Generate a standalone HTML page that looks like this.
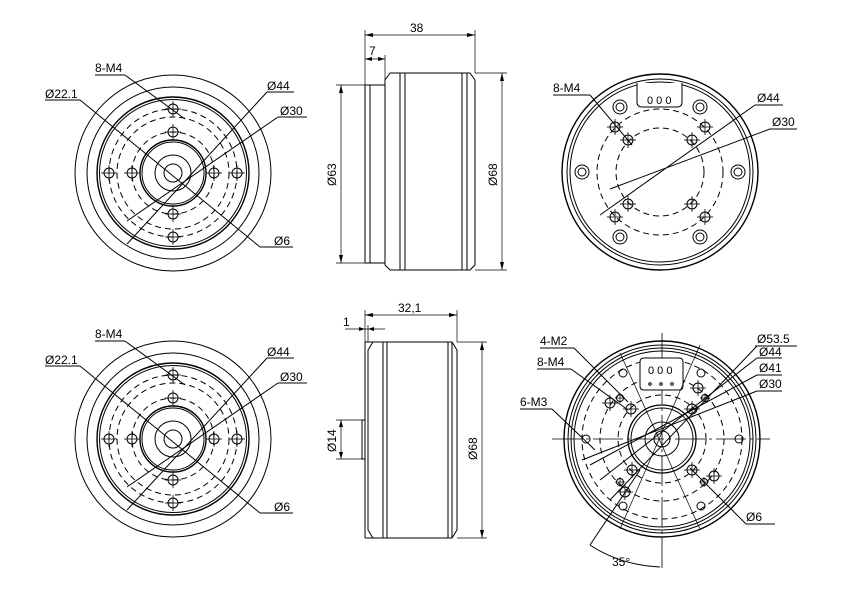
<!DOCTYPE html>
<html><head><meta charset="utf-8"><style>
html,body{margin:0;padding:0;background:#fff;}
svg{display:block;}
text{font-family:"Liberation Sans",sans-serif;font-size:12px;fill:#000;}
</style></head><body>
<svg width="850" height="606" viewBox="0 0 850 606" xmlns="http://www.w3.org/2000/svg">
<defs>
<g id="h"><circle r="5" fill="none" stroke="#000" stroke-width="1"/><line x1="-8" y1="0" x2="8" y2="0" stroke="#000" stroke-width="0.8"/><line x1="0" y1="-8" x2="0" y2="8" stroke="#000" stroke-width="0.8"/></g>
<g id="hs"><circle r="3.5" fill="none" stroke="#000" stroke-width="1"/><line x1="-5" y1="0" x2="5" y2="0" stroke="#000" stroke-width="0.7"/><line x1="0" y1="-5" x2="0" y2="5" stroke="#000" stroke-width="0.7"/></g>
<g id="lv" fill="none" stroke="#000" stroke-width="1">
<circle r="98"/><circle r="86"/><circle r="76" stroke-width="1.4"/><circle r="73.5"/>
<circle r="64" stroke-dasharray="6,4"/><circle r="56" stroke-dasharray="6,4"/><circle r="41" stroke-dasharray="6,4"/>
<circle r="33" stroke-width="1.4"/><circle r="31"/><circle r="18"/><circle r="9"/>
<use href="#h" x="0" y="-64"/><use href="#h" x="0" y="-41"/><use href="#h" x="0" y="41"/><use href="#h" x="0" y="64"/>
<use href="#h" x="-64" y="0"/><use href="#h" x="-41" y="0"/><use href="#h" x="41" y="0"/><use href="#h" x="64" y="0"/>
<line x1="-93" y1="-73" x2="87" y2="74"/>
<line x1="-46" y1="71" x2="94" y2="-81"/>
<line x1="-46" y1="48" x2="105" y2="-56"/>
<line x1="-48" y1="-98" x2="12" y2="-54"/>
</g>
</defs>

<!-- Top-left view -->
<use href="#lv" x="173" y="173"/>
<g stroke="#000" stroke-width="1" fill="none">
<line x1="95" y1="75" x2="125" y2="75"/>
<line x1="45" y1="100" x2="80" y2="100"/>
<line x1="267" y1="92" x2="294" y2="92"/>
<line x1="278" y1="117" x2="307" y2="117"/>
<line x1="260" y1="247" x2="293" y2="247"/>
</g>
<text x="95" y="72">8-M4</text><text x="45" y="98">Ø22.1</text><text x="267" y="90">Ø44</text><text x="280" y="115">Ø30</text><text x="274" y="245">Ø6</text>

<!-- Bottom-left view -->
<use href="#lv" x="173" y="439"/>
<g stroke="#000" stroke-width="1" fill="none">
<line x1="95" y1="341" x2="125" y2="341"/>
<line x1="45" y1="366" x2="80" y2="366"/>
<line x1="267" y1="358" x2="294" y2="358"/>
<line x1="278" y1="383" x2="307" y2="383"/>
<line x1="260" y1="513" x2="293" y2="513"/>
</g>
<text x="95" y="338">8-M4</text><text x="45" y="364">Ø22.1</text><text x="267" y="356">Ø44</text><text x="280" y="381">Ø30</text><text x="274" y="511">Ø6</text>

<!-- Top-middle side view -->
<g stroke="#000" stroke-width="1" fill="none">
<path d="M365,85 L365,263 M365,85 L385,85 M365,263 L385,263 M370,85 L370,263"/>
<path d="M385,85 L385,263"/>
<path d="M385,80 L390,73 L470,73 L475,80 L475,265 L470,270 L390,270 L385,265 Z"/>
<line x1="400" y1="73" x2="400" y2="270"/><line x1="405" y1="73" x2="405" y2="270"/>
<line x1="462" y1="73" x2="462" y2="270"/><line x1="467" y1="73" x2="467" y2="270"/>
<!-- dims -->
<line x1="365" y1="30" x2="365" y2="85" stroke-width="0.7"/><line x1="475" y1="30" x2="475" y2="73" stroke-width="0.7"/>
<line x1="365" y1="35" x2="475" y2="35" stroke-width="0.7"/>
<line x1="385" y1="55" x2="385" y2="85" stroke-width="0.7"/>
<line x1="365" y1="59" x2="385" y2="59" stroke-width="0.7"/>
<line x1="336" y1="85" x2="365" y2="85" stroke-width="0.7"/><line x1="336" y1="263" x2="365" y2="263" stroke-width="0.7"/>
<line x1="341" y1="85" x2="341" y2="263" stroke-width="0.7"/>
<line x1="475" y1="73" x2="507" y2="73" stroke-width="0.7"/><line x1="475" y1="270" x2="507" y2="270" stroke-width="0.7"/>
<line x1="502" y1="73" x2="502" y2="270" stroke-width="0.7"/>
</g>
<g fill="#000">
<path d="M365,35 l8,-2 v4z M475,35 l-8,-2 v4z M365,59 l7,-2 v4z M385,59 l-7,-2 v4z M341,85 l-2,8 h4z M341,263 l-2,-8 h4z M502,73 l-2,8 h4z M502,270 l-2,-8 h4z"/>
</g>
<text x="410" y="32">38</text><text x="369" y="55">7</text>
<text transform="translate(336,186) rotate(-90)">Ø63</text>
<text transform="translate(497,186) rotate(-90)">Ø68</text>

<!-- Bottom-middle side view -->
<g stroke="#000" stroke-width="1" fill="none">
<line x1="365" y1="342" x2="365" y2="538"/>
<path d="M368,350 L373,342 L452,342 L457,350 L457,530 L452,538 L373,538 L368,530 Z"/>
<line x1="365" y1="342" x2="373" y2="342"/><line x1="365" y1="538" x2="373" y2="538"/>
<line x1="383" y1="342" x2="383" y2="538"/><line x1="387" y1="342" x2="387" y2="538"/>
<line x1="448" y1="342" x2="448" y2="538"/><line x1="452" y1="342" x2="452" y2="538"/>
<rect x="362" y="420" width="3" height="39"/>
<line x1="365" y1="310" x2="365" y2="342" stroke-width="0.7"/><line x1="457" y1="310" x2="457" y2="342" stroke-width="0.7"/>
<line x1="365" y1="315" x2="457" y2="315" stroke-width="0.7"/>
<line x1="368" y1="325" x2="368" y2="342" stroke-width="0.7"/>
<line x1="345" y1="329" x2="385" y2="329" stroke-width="0.7"/>
<line x1="336" y1="420" x2="362" y2="420" stroke-width="0.7"/><line x1="336" y1="459" x2="362" y2="459" stroke-width="0.7"/>
<line x1="341" y1="420" x2="341" y2="459" stroke-width="0.7"/>
<line x1="457" y1="342" x2="487" y2="342" stroke-width="0.7"/><line x1="457" y1="538" x2="487" y2="538" stroke-width="0.7"/>
<line x1="482" y1="342" x2="482" y2="538" stroke-width="0.7"/>
</g>
<g fill="#000">
<path d="M365,315 l8,-2 v4z M457,315 l-8,-2 v4z M365,329 l-6,-2 v4z M368,329 l6,-2 v4z M341,420 l-2,7 h4z M341,459 l-2,-7 h4z M482,342 l-2,8 h4z M482,538 l-2,-8 h4z"/>
</g>
<text x="398" y="312">32,1</text><text x="343" y="326">1</text>
<text transform="translate(336,452) rotate(-90)">Ø14</text>
<text transform="translate(477,460) rotate(-90)">Ø68</text>

<!-- Top-right view -->
<g stroke="#000" stroke-width="1" fill="none">
<circle cx="660" cy="172" r="98" stroke-width="1.4"/><circle cx="660" cy="172" r="93"/><circle cx="660" cy="172" r="90"/>
<circle cx="660" cy="172" r="63" stroke-dasharray="6,4"/><circle cx="660" cy="172" r="44" stroke-dasharray="6,4"/>
<path d="M637,83 L637,102 Q637,107 642,107 L677,107 Q682,107 682,102 L682,83" fill="#fff"/>
<g>
<circle cx="620" cy="107" r="7"/><circle cx="620" cy="107" r="4"/>
<circle cx="700" cy="107" r="7"/><circle cx="700" cy="107" r="4"/>
<circle cx="582" cy="172" r="7"/><circle cx="582" cy="172" r="4"/>
<circle cx="738" cy="172" r="7"/><circle cx="738" cy="172" r="4"/>
<circle cx="620" cy="237" r="7"/><circle cx="620" cy="237" r="4"/>
<circle cx="700" cy="237" r="7"/><circle cx="700" cy="237" r="4"/>
</g>
<line x1="755" y1="105" x2="783" y2="105"/><line x1="755" y1="105" x2="600" y2="215"/>
<line x1="770" y1="129" x2="797" y2="129"/><line x1="770" y1="129" x2="610" y2="189"/>
<line x1="553" y1="95" x2="590" y2="95"/><line x1="590" y1="95" x2="632" y2="145"/>
</g>
<use href="#h" x="615" y="127"/><use href="#h" x="705" y="127"/><use href="#h" x="615" y="217"/><use href="#h" x="705" y="217"/>
<use href="#h" x="628" y="140"/><use href="#h" x="692" y="140"/><use href="#h" x="628" y="204"/><use href="#h" x="692" y="204"/>
<text x="647" y="104" style="font-size:11px">0 0 0</text>
<text x="553" y="92">8-M4</text><text x="757" y="102">Ø44</text><text x="772" y="126">Ø30</text>

<!-- Bottom-right view -->
<g stroke="#000" stroke-width="1" fill="none">
<line x1="662" y1="333" x2="662" y2="568" stroke-dasharray="30,4,3,4" stroke-width="0.8"/>
<line x1="552" y1="439" x2="770" y2="439" stroke-dasharray="30,4,3,4" stroke-width="0.8"/>
<circle cx="662" cy="439" r="98" stroke-width="1.4"/><circle cx="662" cy="439" r="94"/><circle cx="662" cy="439" r="91"/><circle cx="662" cy="439" r="88"/>
<circle cx="662" cy="439" r="80" stroke-dasharray="6,4"/><circle cx="662" cy="439" r="62" stroke-dasharray="6,4"/><circle cx="662" cy="439" r="44" stroke-dasharray="6,4"/>
<circle cx="662" cy="439" r="34" stroke-width="1.3"/><circle cx="662" cy="439" r="31"/><circle cx="662" cy="439" r="17"/><circle cx="662" cy="439" r="8"/>
<path d="M640,362 Q640,358 644,358 L679,358 Q683,358 683,362 L683,386 Q683,390 679,390 L644,390 Q640,390 640,386 Z" fill="#fff"/>
<circle cx="650" cy="384" r="1.3"/><circle cx="661" cy="384" r="1.3"/><circle cx="672" cy="384" r="1.3"/>
<circle cx="623" cy="373" r="4"/><circle cx="701" cy="373" r="4"/><circle cx="586" cy="439" r="4"/><circle cx="739" cy="439" r="4"/><circle cx="623" cy="506" r="4"/><circle cx="701" cy="506" r="4"/>
<!-- leaders -->
<line x1="757" y1="346" x2="610" y2="500"/>
<line x1="757" y1="358" x2="600" y2="480"/>
<line x1="757" y1="375" x2="590" y2="465"/>
<line x1="757" y1="391" x2="582" y2="460"/>
<line x1="755" y1="346" x2="797" y2="346"/><line x1="757" y1="358" x2="782" y2="358"/><line x1="757" y1="375" x2="782" y2="375"/><line x1="757" y1="391" x2="782" y2="391"/>
<line x1="540" y1="348" x2="574" y2="348"/><line x1="574" y1="348" x2="628" y2="402"/>
<line x1="537" y1="369" x2="571" y2="369"/><line x1="571" y1="369" x2="628" y2="410"/>
<line x1="520" y1="409" x2="552" y2="409"/><line x1="552" y1="409" x2="595" y2="450"/>
<line x1="746" y1="524" x2="775" y2="524"/><line x1="746" y1="524" x2="690" y2="468"/>
<line x1="640" y1="470" x2="590" y2="545"/>
<path d="M590,545 Q620,565 660,567"/>
<line x1="620" y1="353" x2="700" y2="529" stroke-width="0.7"/>
<line x1="700" y1="345" x2="620" y2="529" stroke-width="0.7"/>
</g>
<use href="#h" x="610" y="403"/><use href="#h" x="631" y="409"/><use href="#h" x="692" y="409"/><use href="#h" x="698" y="388"/>
<use href="#h" x="632" y="470"/><use href="#h" x="625" y="492"/><use href="#h" x="692" y="470"/><use href="#h" x="714" y="476"/>
<use href="#hs" x="620" y="398"/><use href="#hs" x="705" y="398"/><use href="#hs" x="620" y="482"/><use href="#hs" x="704" y="482"/>
<text x="648" y="374" style="font-size:11px">0 0 0</text>
<text x="757" y="343">Ø53.5</text><text x="759" y="356">Ø44</text><text x="759" y="372">Ø41</text><text x="759" y="388">Ø30</text>
<text x="540" y="345">4-M2</text><text x="537" y="366">8-M4</text><text x="520" y="406">6-M3</text>
<text x="746" y="521">Ø6</text><text x="612" y="566">35°</text>
</svg>
</body></html>
